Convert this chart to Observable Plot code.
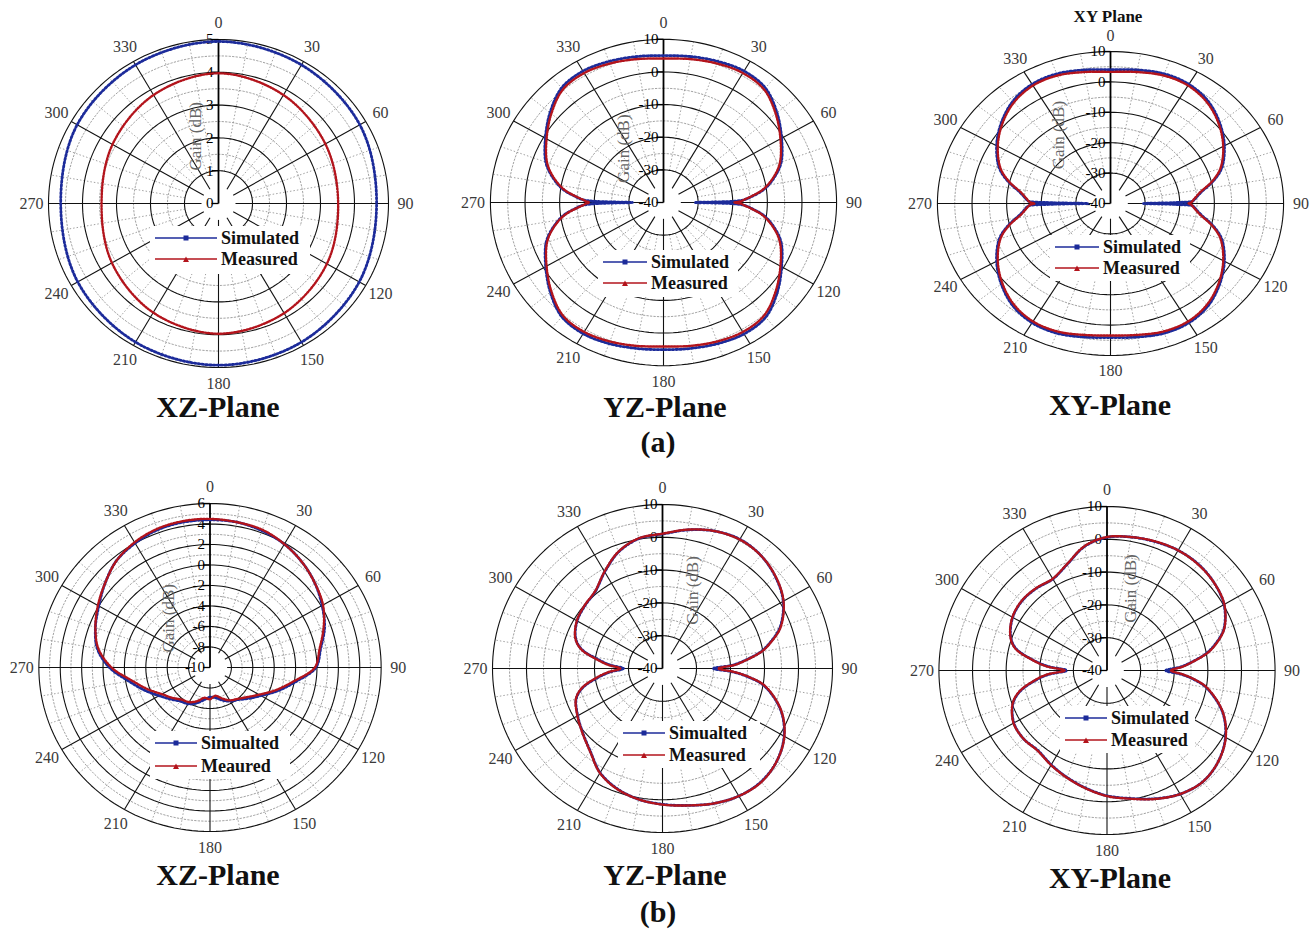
<!DOCTYPE html>
<html>
<head>
<meta charset="utf-8">
<script src="https://cdn.jsdelivr.net/npm/d3@7"></script>
<script src="https://cdn.jsdelivr.net/npm/@observablehq/plot@0.6"></script>
<style>
  html, body { margin: 0; padding: 0; background: #fff; }
  #page { position: relative; width: 1315px; height: 931px; overflow: hidden; background: #fff;
          font-family: "Liberation Serif", "Times New Roman", serif; }
  .panel { position: absolute; }
  .title { position: absolute; font-weight: bold; white-space: nowrap; line-height: 1;
           transform: translate(-50%, -50%); color: #111; }
  .legbox { position: absolute; background: #fff; }
  .legrow { position: absolute; display: flex; align-items: center; font-weight: bold; font-size: 18px;
            line-height: 18px; color: #111; white-space: nowrap; }
  .legrow svg { margin-right: 4px; }
</style>
</head>
<body>
<div id="page"></div>
<script>
// ---------------- DATA ----------------
// (a) XZ-Plane : gain (dB) vs angle (deg)
const xzA_angle = [0, 30, 60, 90, 120, 150, 180, 210, 240, 270, 300, 330];
const xzA_sim   = [4.94, 4.88, 4.80, 4.65, 4.78, 4.88, 4.93, 4.88, 4.78, 4.64, 4.80, 4.88];
const xzA_meas  = [3.97, 3.82, 3.63, 3.52, 3.68, 3.86, 3.97, 3.84, 3.62, 3.44, 3.60, 3.82];
const xzA_ticks = [0, 1, 2, 3, 4, 5];

// (a) YZ-Plane and XY-Plane share the same angle sampling
const fig8_angle = [0,10,20,30,40,50,60,70,76,82,86,88,89,90,91,92,94,98,104,110,120,130,140,150,160,170,
                    180,190,200,210,220,230,240,250,256,262,266,268,269,270,271,272,274,278,284,290,300,310,320,330,340,350];
const yzA_sim  = [5.0,5.4,6.0,6.5,5.8,2.8,-0.6,-3.8,-6.8,-10.6,-14.6,-16.8,-20.5,-31,
                  -20.5,-16.8,-14.6,-10.6,-6.8,-3.8,-0.6,2.9,5.9,6.5,6.0,5.4,
                  5.1,5.4,6.0,6.4,5.7,2.7,-0.7,-3.9,-6.9,-10.7,-14.6,-16.8,-21,-31,
                  -21,-16.8,-14.6,-10.6,-6.8,-3.8,-0.6,2.8,5.8,6.5,6.0,5.4];
const yzA_meas = [4.1,4.6,5.3,5.8,5.2,2.3,-1.0,-4.2,-7.1,-10.9,-14.8,-16.8,-17.5,-19.5,
                  -17.5,-16.8,-14.8,-10.9,-7.1,-4.2,-1.0,2.3,5.2,5.8,5.3,4.6,
                  4.1,4.6,5.3,5.8,5.2,2.3,-1.0,-4.2,-7.1,-10.9,-14.8,-16.8,-17.5,-18.5,
                  -17.5,-16.8,-14.8,-10.9,-7.1,-4.2,-1.0,2.3,5.2,5.8,5.3,4.6];
const xyA_sim  = [4.0,4.6,5.4,5.3,3.9,1.2,-2.0,-5.8,-9.4,-13.6,-15.4,-16.2,-21,-30.5,
                  -21,-16.2,-15.4,-13.6,-9.4,-5.8,-2.0,1.2,3.9,5.3,5.4,4.6,
                  4.1,4.6,5.4,5.3,3.9,1.2,-2.0,-5.8,-9.4,-13.6,-15.4,-16.2,-22,-33.5,
                  -22,-16.2,-15.4,-13.6,-9.4,-5.8,-2.0,1.2,3.9,5.3,5.4,4.6];
const xyA_meas = [3.3,3.9,4.8,4.8,3.4,0.8,-2.4,-6.2,-9.7,-13.9,-15.6,-16.3,-16.6,-17.5,
                  -16.6,-16.3,-15.6,-13.9,-9.7,-6.2,-2.4,0.8,3.4,4.8,4.8,3.9,
                  3.4,3.9,4.8,4.8,3.4,0.8,-2.4,-6.2,-9.7,-13.9,-15.6,-16.3,-16.8,-18,
                  -16.8,-16.3,-15.6,-13.9,-9.7,-6.2,-2.4,0.8,3.4,4.8,4.8,3.9];
const dB_ticks = [-40, -30, -20, -10, 0, 10];

// (b) XZ-Plane
const xzB_angle = [0,10,20,30,40,50,60,70,80,90,100,110,120,130,140,150,160,170,
                   180,190,200,210,220,230,240,250,260,270,280,290,300,310,320,330,340,350];
const xzB_sim  = [4.4,4.4,4.2,3.9,3.4,2.8,2.1,1.4,0.5,-0.1,-1.9,-3.3,-4.5,-5.3,-5.9,-6.2,-6.6,-7.0,
                  -7.1,-6.8,-6.3,-5.9,-5.7,-5.2,-4.5,-3.5,-2.3,-0.6,0.7,1.4,2.0,2.8,3.6,4.0,4.3,4.4];
const xzB_meas = [4.5,4.4,4.3,3.9,3.4,2.8,2.2,1.3,0.4,-0.2,-2.1,-3.5,-4.7,-5.5,-6.0,-6.3,-6.8,-7.2,
                  -6.9,-7.0,-6.5,-6.1,-5.9,-5.4,-4.8,-3.8,-2.6,-0.8,0.6,1.4,2.1,2.8,3.6,4.1,4.4,4.5];
const xzB_ticks = [-10, -8, -6, -4, -2, 0, 2, 4, 6];

// (b) YZ-Plane and XY-Plane share the same angle sampling
const b_angle = [0,10,20,30,40,50,60,70,76,80,84,87,90,93,96,100,110,120,130,140,150,160,170,180,
                 190,200,210,220,230,240,250,256,262,266,270,274,278,284,290,300,310,320,330,340,350];
const yzB_sim  = [1.0,2.9,4.6,5.5,5.0,3.4,1.0,-3.2,-7.4,-10.6,-15.4,-19.0,-25.0,-19.0,-14.4,-9.6,
                  -3.0,1.3,3.9,5.1,4.9,3.8,2.4,1.4,0.5,-1.0,-3.3,-7.0,-9.4,-11.2,-13.0,
                  -15.8,-21.0,-24.5,-28.5,-24.5,-21.0,-15.4,-12.8,-11.0,-10.2,-9.3,-6.0,-2.2,0.2];
const yzB_meas = [1.1,3.0,4.6,5.4,5.0,3.5,1.1,-3.0,-7.2,-10.4,-15.2,-18.6,-23.6,-18.6,-14.2,-9.4,
                  -2.9,1.4,3.9,5.2,4.9,3.8,2.4,1.5,0.5,-0.9,-3.2,-6.9,-9.3,-11.1,-12.9,
                  -15.6,-20.6,-24.0,-27.6,-24.0,-20.6,-15.2,-12.7,-10.9,-10.1,-9.2,-5.9,-2.1,0.3];
const xyB_sim  = [0.6,1.3,1.8,2.3,2.3,1.6,0.2,-3.0,-6.8,-10.0,-14.5,-17.8,-22.5,-17.8,-14.0,-10.0,
                  -3.5,0.7,3.2,4.3,3.5,1.6,-0.4,-1.8,-3.6,-5.3,-6.8,-8.1,-7.6,-8.0,-10.2,
                  -13.2,-18.5,-22.5,-28.0,-22.5,-18.0,-12.0,-9.5,-7.6,-7.0,-7.3,-7.8,-5.5,-1.6];
const xyB_meas = [0.7,1.3,1.9,2.3,2.2,1.6,0.3,-2.9,-6.6,-9.8,-14.3,-17.4,-21.0,-17.4,-13.8,-9.8,
                  -3.4,0.8,3.2,4.3,3.5,1.7,-0.3,-1.7,-3.5,-5.2,-6.7,-8.0,-7.6,-7.9,-10.1,
                  -13.0,-18.2,-22.0,-27.4,-22.0,-17.8,-11.8,-9.4,-7.5,-6.9,-7.2,-7.7,-5.4,-1.5];

const angleTicks = [0, 30, 60, 90, 120, 150, 180, 210, 240, 270, 300, 330];
const seriesNames = ["Simulated", "Measured"];

// ---------------- LAYOUT / STYLE ----------------
const BLUE = "#1c2b9a", RED = "#b3141c";
const panels = [
  {cx:218, cy:203, Rx:170, Ry:164, vmin:0, vmax:5, major:1, ang:xzA_angle, sim:xzA_sim, meas:xzA_meas, ticks:xzA_ticks,
   gain:[-0.135, 0.41], leg:{box:[150,226,160,48], lx:155, lw:62, y1:238, y2:259, t:["Simulated","Measured"]}},
  {cx:663, cy:202, Rx:173, Ry:163, vmin:-40, vmax:10, major:10, ang:fig8_angle, sim:yzA_sim, meas:yzA_meas, ticks:dB_ticks,
   gain:[-0.23, 0.33], leg:{box:[598,250,140,47], lx:603, lw:44, y1:262, y2:283, t:["Simulated","Measured"]}},
  {cx:1110, cy:203, Rx:173, Ry:152, vmin:-40, vmax:10, major:10, ang:fig8_angle, sim:xyA_sim, meas:xyA_meas, ticks:dB_ticks,
   gain:[-0.3, 0.45], leg:{box:[1050,235,140,46], lx:1055, lw:44, y1:247, y2:268, t:["Simulated","Measured"]}},
  {cx:209, cy:667, Rx:171, Ry:164, vmin:-10, vmax:6, major:2, ang:xzB_angle, sim:xzB_sim, meas:xzB_meas, ticks:xzB_ticks,
   gain:[-0.24, 0.3], leg:{box:[150,731,140,48], lx:155, lw:42, y1:743, y2:766, t:["Simualted","Meaured"]}},
  {cx:662, cy:668, Rx:170, Ry:164, vmin:-40, vmax:10, major:10, ang:b_angle, sim:yzB_sim, meas:yzB_meas, ticks:dB_ticks,
   gain:[0.176, 0.476], leg:{box:[618,721,142,47], lx:623, lw:42, y1:733, y2:755, t:["Simualted","Measured"]}},
  {cx:1106, cy:670, Rx:168, Ry:164, vmin:-40, vmax:10, major:10, ang:b_angle, sim:xyB_sim, meas:xyB_meas, ticks:dB_ticks,
   gain:[0.143, 0.5], leg:{box:[1060,706,135,47], lx:1065, lw:42, y1:718, y2:740, t:["Simulated","Measured"]}}
];
const titles = [
  {t:"XZ-Plane", x:218, y:407, s:30}, {t:"YZ-Plane", x:665, y:407, s:30}, {t:"XY-Plane", x:1110, y:405, s:30},
  {t:"(a)", x:658, y:442, s:30},
  {t:"XZ-Plane", x:218, y:875, s:30}, {t:"YZ-Plane", x:665, y:875, s:30}, {t:"XY-Plane", x:1110, y:878, s:30},
  {t:"(b)", x:658, y:912, s:30},
  {t:"XY Plane", x:1108, y:16, s:17}
];

const page = document.getElementById("page");
const rad = d => d * Math.PI / 180;

function addPanel(p) {
  const a = 1.3, b = 1.25;
  const W = Math.round(2 * a * p.Rx), H = Math.round(2 * b * p.Ry);
  const rn = v => (v - p.vmin) / (p.vmax - p.vmin);
  const pt = (deg, r) => [r * Math.sin(rad(deg)), r * Math.cos(rad(deg))];
  const curve = (vals, key) => p.ang.map((d, i) => { const [x, y] = pt(d, rn(vals[i])); return {x, y, key}; });
  const majors = d3.range(p.vmin + p.major, p.vmax + p.major / 2, p.major);
  const minors = d3.range(p.vmin + p.major / 2, p.vmax, p.major).filter(v => rn(v) > 0.15);
  const ring = vals => vals.flatMap(v => d3.range(0, 362, 2).map(t => { const [x, y] = pt(t, rn(v)); return {x, y, v}; }));
  const hole = 0.1;
  const spoke = (t, r0) => { const [x1, y1] = pt(t, r0); const [x2, y2] = pt(t, 1); return {x1, y1, x2, y2}; };
  const spokes = angleTicks.filter(t => t !== 0).map(t => spoke(t, hole));
  const minorSpokes = d3.range(10, 360, 10).filter(t => t % 30 !== 0).map(t => spoke(t, 0.2));
  const angLabels = angleTicks.map(t => { const [x, y] = pt(t, 1.1); return {x, y, t}; });
  const tickLen = 7 / p.Rx;
  const simData = curve(p.sim, seriesNames[0]);
  const measData = curve(p.meas, seriesNames[1]);

  const chart = Plot.plot({
    width: W, height: H, margin: 0, inset: 0,
    x: {domain: [-a, a], axis: null},
    y: {domain: [-b, b], axis: null},
    style: {fontFamily: "'Liberation Serif','Times New Roman',serif", background: "transparent", overflow: "visible", maxWidth: "none"},
    marks: [
      Plot.line(ring(minors), {x: "x", y: "y", z: "v", stroke: "#8a8a8a", strokeWidth: 0.8, strokeDasharray: "1.5,2"}),
      Plot.link(minorSpokes, {x1: "x1", y1: "y1", x2: "x2", y2: "y2", stroke: "#8a8a8a", strokeWidth: 0.8, strokeDasharray: "1.5,2"}),
      Plot.line(ring(majors), {x: "x", y: "y", z: "v", stroke: "#111", strokeWidth: 1.1}),
      Plot.link(spokes, {x1: "x1", y1: "y1", x2: "x2", y2: "y2", stroke: "#111", strokeWidth: 1.1}),
      Plot.link([p.vmax], {x1: () => 0, y1: () => 0, x2: () => 0, y2: d => rn(d), stroke: "#000", strokeWidth: 1.8}),
      Plot.link(p.ticks, {x1: () => -tickLen, x2: () => 0, y1: d => rn(d), y2: d => rn(d), stroke: "#000", strokeWidth: 1.3}),
      Plot.text(p.ticks, {x: () => 0, y: d => rn(d), text: d => String(d), textAnchor: "end", dx: -5, fontSize: 15, fill: "#000"}),
      Plot.text(angLabels, {x: "x", y: "y", text: d => String(d.t), fontSize: 16, fill: "#3a3a3a"}),
      Plot.text(["Gain (dB)"], {x: () => p.gain[0], y: () => p.gain[1], text: d => d, rotate: -90, fontSize: 17, fill: "#666"}),
      Plot.line(simData, {x: "x", y: "y", stroke: BLUE, strokeWidth: 0.7, curve: "catmull-rom-closed"}),
      Plot.line(simData, {x: "x", y: "y", stroke: BLUE, strokeWidth: 2.8, strokeDasharray: "1.6,2.2", curve: "catmull-rom-closed"}),
      Plot.line(measData, {x: "x", y: "y", stroke: RED, strokeWidth: 1, curve: "catmull-rom-closed"}),
      Plot.line(measData, {x: "x", y: "y", stroke: RED, strokeWidth: 2.4, strokeDasharray: "1.4,1.6", curve: "catmull-rom-closed"})
    ]
  });
  const holder = document.createElement("div");
  holder.className = "panel";
  holder.style.left = (p.cx - W / 2) + "px";
  holder.style.top = (p.cy - H / 2) + "px";
  holder.appendChild(chart);
  page.appendChild(holder);

  // legend (white box hides the grid, as in the original)
  const L = p.leg;
  const box = document.createElement("div");
  box.className = "legbox";
  Object.assign(box.style, {left: L.box[0] + "px", top: L.box[1] + "px", width: L.box[2] + "px", height: L.box[3] + "px"});
  page.appendChild(box);
  [[L.y1, BLUE, "square", L.t[0]], [L.y2, RED, "triangle", L.t[1]]].forEach(([y, col, shape, label]) => {
    const row = document.createElement("div");
    row.className = "legrow";
    row.style.left = L.lx + "px";
    row.style.top = (y - 9) + "px";
    const m = L.lw / 2;
    const marker = shape === "square"
      ? `<rect x="${m - 2.5}" y="2.5" width="5" height="5" fill="${col}"/>`
      : `<polygon points="${m - 3},8 ${m + 3},8 ${m},2.5" fill="${col}"/>`;
    row.innerHTML = `<svg width="${L.lw}" height="10"><line x1="0" y1="5" x2="${L.lw}" y2="5" stroke="${col}" stroke-width="1.3"/>${marker}</svg><span>${label}</span>`;
    page.appendChild(row);
  });
}

panels.forEach(addPanel);

titles.forEach(d => {
  const el = document.createElement("div");
  el.className = "title";
  el.textContent = d.t;
  el.style.left = d.x + "px";
  el.style.top = d.y + "px";
  el.style.fontSize = d.s + "px";
  page.appendChild(el);
});
</script>
</body>
</html>
